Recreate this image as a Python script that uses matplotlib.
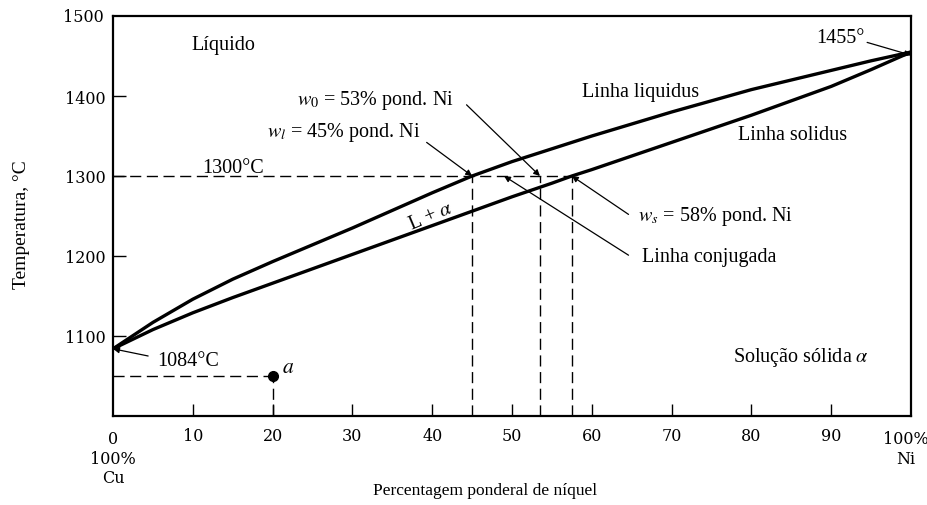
import numpy as np
import matplotlib
matplotlib.use("Agg")
import matplotlib.pyplot as plt

# ---------------------------- data ------------------------------------------
# Cu-Ni phase diagram (wt% Ni, deg C)
liq_x = [0, 5, 10, 15, 20, 25, 30, 35, 40, 45, 50, 55, 60, 65, 70, 75, 80, 85, 90, 95, 100]
liq_T = [1084, 1117, 1146, 1171, 1193, 1214, 1235, 1257, 1279, 1300, 1318, 1334, 1350,
         1365, 1380, 1394, 1408, 1420, 1432, 1444, 1455]

sol_x = [0, 5, 10, 15, 20, 25, 30, 35, 40, 45, 50, 55, 57.5, 60, 65, 70, 75, 80, 85, 90, 95, 100]
sol_T = [1084, 1108, 1129, 1148, 1166, 1184, 1202, 1220, 1238, 1256, 1274, 1291, 1300, 1308,
         1325, 1342, 1359, 1376, 1394, 1412, 1433, 1455]

T_tie = 1300
w_l, w_0, w_s = 45, 53.5, 57.5   # positions of the dashed verticals
point_a = (20, 1050)

x_ticks = [0, 10, 20, 30, 40, 50, 60, 70, 80, 90, 100]
x_ticklabels = ["0\n100%\nCu", "10", "20", "30", "40", "50", "60", "70", "80", "90", "100%\nNi"]
y_ticks = [1100, 1200, 1300, 1400, 1500]

# ---------------------------- style -----------------------------------------
plt.rcParams['font.family'] = ['Liberation Serif', 'DejaVu Serif']
plt.rcParams['mathtext.fontset'] = 'stix'
TXT = 14.5
TICK = 11.5

fig = plt.figure(figsize=(9.28, 5.06), dpi=100)
ax = fig.add_axes([0.1218, 0.1759, 0.8599, 0.7905])

ax.plot(liq_x, liq_T, color='black', lw=2.4, solid_capstyle='round', solid_joinstyle='round')
ax.plot(sol_x, sol_T, color='black', lw=2.4, solid_capstyle='round', solid_joinstyle='round')

dash = dict(color='black', lw=1.0, dashes=(8, 4))
ax.plot([0, w_s], [T_tie, T_tie], **dash)
for w in (w_l, w_0, w_s):
    ax.plot([w, w], [1000, T_tie], **dash)
ax.plot([0, point_a[0]], [point_a[1], point_a[1]], **dash)
ax.plot([point_a[0], point_a[0]], [1000, point_a[1]], **dash)
ax.plot(*point_a, 'o', color='black', ms=7, zorder=5)

ax.set_xlim(0, 100)
ax.set_ylim(1000, 1500)
ax.set_xticks(x_ticks[1:-1])
ax.set_yticks(y_ticks[:-1])
ax.set_xticklabels(x_ticklabels[1:-1], fontfamily='DejaVu Serif', fontsize=TICK)
ax.set_yticklabels([str(t) for t in y_ticks[:-1]], fontfamily='DejaVu Serif', fontsize=TICK)
ax.tick_params(direction='in', length=9, width=1.0, pad=8)
ax.tick_params(axis='y', pad=5)
for s in ax.spines.values():
    s.set_linewidth(1.6)

# end labels (0 / 100% and the 1500 tick)
ax.text(0, -0.035, x_ticklabels[0], transform=ax.transAxes, ha='center', va='top',
        fontfamily='DejaVu Serif', fontsize=TICK, linespacing=1.2)
ax.text(0.993, -0.035, x_ticklabels[-1], transform=ax.transAxes, ha='center', va='top',
        fontfamily='DejaVu Serif', fontsize=TICK, linespacing=1.2)
ax.text(-0.012, 1.0, str(y_ticks[-1]), transform=ax.transAxes, ha='right', va='center',
        fontfamily='DejaVu Serif', fontsize=TICK)

ax.text(0.466, -0.185, "Percentagem ponderal de níquel", transform=ax.transAxes,
        fontsize=12.5, ha='center', va='center')
ax.text(-0.115, 0.48, "Temperatura, °C", transform=ax.transAxes, rotation=90,
        fontsize=14, ha='center', va='center')

# ---------------------------- annotations ------------------------------------
arrow = dict(arrowstyle='-|>', color='black', lw=0.9, mutation_scale=9, shrinkA=0, shrinkB=0)

ax.text(13.8, 1464, "Líquido", fontsize=TXT, ha='center', va='center')
ax.text(86.2, 1074, r"Solução sólida $\alpha$", fontsize=TXT, ha='center', va='center')
ax.text(66.1, 1406, "Linha liquidus", fontsize=TXT, ha='center', va='center')
ax.text(85.2, 1352, "Linha solidus", fontsize=TXT, ha='center', va='center')
ax.text(39.8, 1250, r"L + $\alpha$", fontsize=TXT, ha='center', va='center', rotation=23)
ax.text(15, 1311, "1300°C", fontsize=TXT, ha='center', va='center')

ax.text(91.2, 1473, "1455°", fontsize=TXT, ha='center', va='center')
ax.annotate("", xy=(100, 1451), xytext=(94.5, 1467), arrowprops=arrow)

ax.text(9.4, 1069, "1084°C", fontsize=TXT, ha='center', va='center')
ax.annotate("", xy=(0, 1084), xytext=(4.4, 1075), arrowprops=arrow)

ax.text(21.2, 1061, r"$a$", fontsize=TXT + 1, ha='left', va='center')

ax.text(23.1, 1396, r"$w_0$ = 53% pond. Ni", fontsize=TXT, ha='left', va='center')
ax.annotate("", xy=(w_0, T_tie), xytext=(44.3, 1389), arrowprops=arrow)

ax.text(19.3, 1356, r"$w_l$ = 45% pond. Ni", fontsize=TXT, ha='left', va='center')
ax.annotate("", xy=(w_l, T_tie), xytext=(39.3, 1342), arrowprops=arrow)

ax.text(65.8, 1250, r"$w_s$ = 58% pond. Ni", fontsize=TXT, ha='left', va='center')
ax.annotate("", xy=(w_s, T_tie), xytext=(64.6, 1252), arrowprops=arrow)

ax.text(66.3, 1199, "Linha conjugada", fontsize=TXT, ha='left', va='center')
ax.annotate("", xy=(49, T_tie), xytext=(64.6, 1201), arrowprops=arrow)

fig.savefig("out.png", dpi=100)
